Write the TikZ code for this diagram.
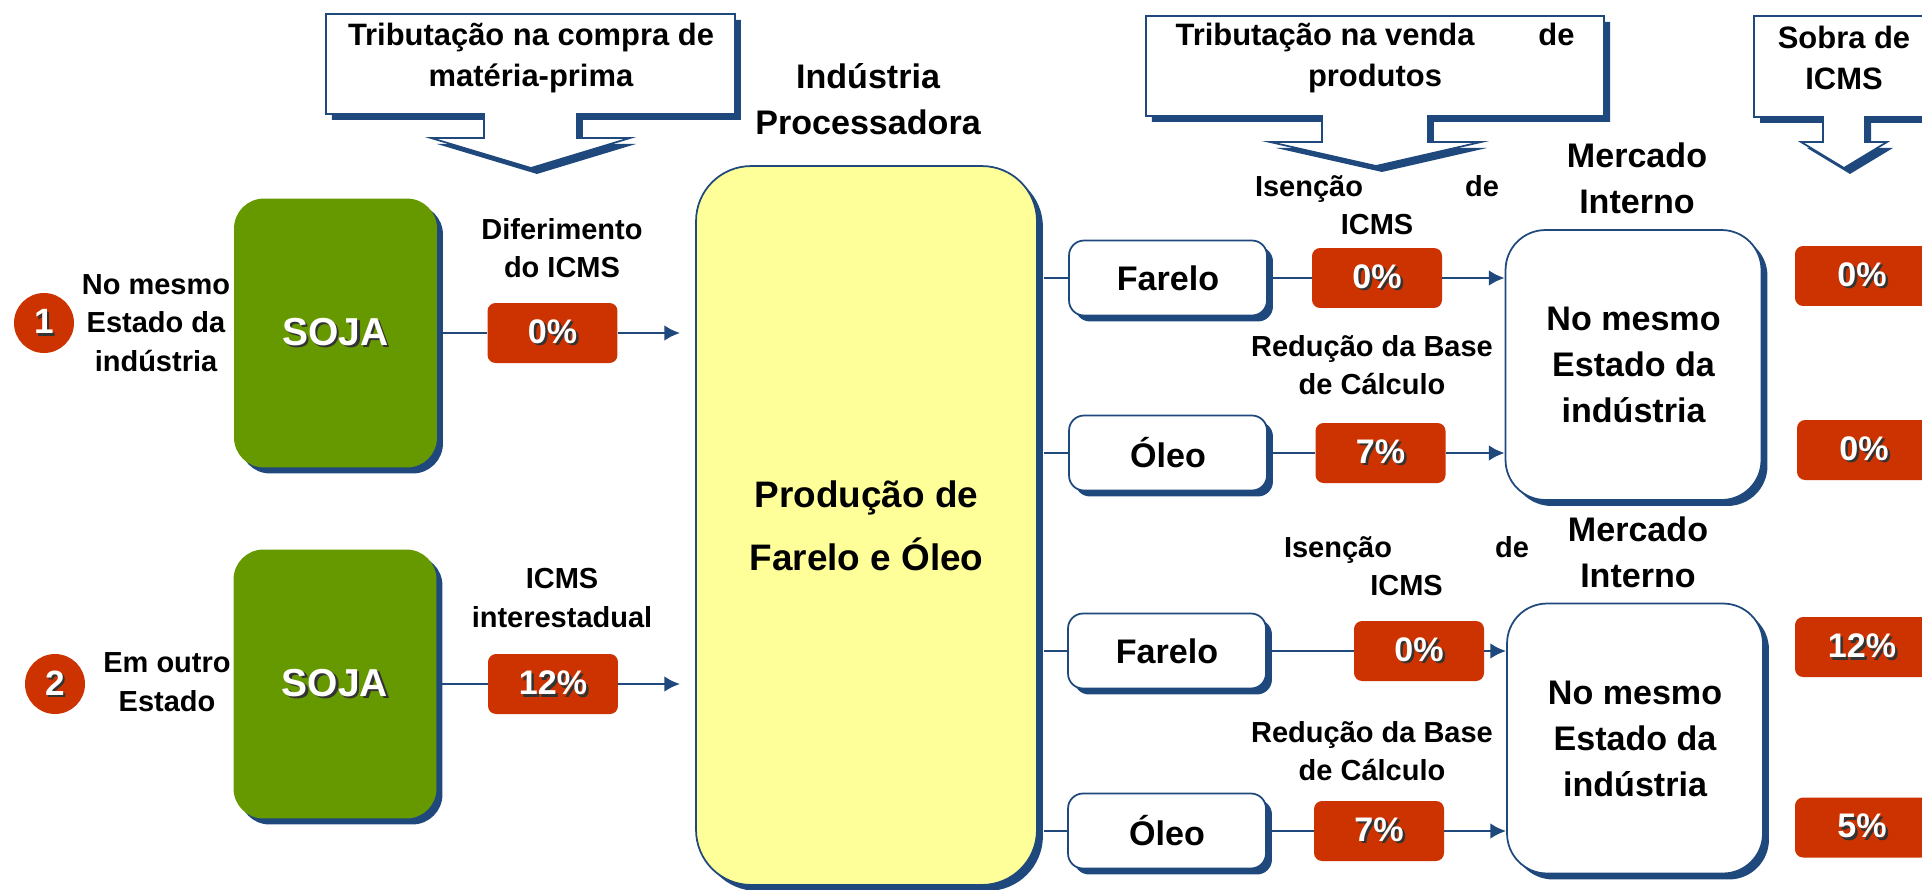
\documentclass[tikz,border=0pt]{standalone}
\usepackage{fontspec}
\setmainfont{Liberation Sans}
\usetikzlibrary{shadows, arrows.meta}

\definecolor{navy}{RGB}{31,73,125}
\definecolor{soyred}{RGB}{204,51,0}
\definecolor{soygreen}{RGB}{102,153,0}
\definecolor{paleyellow}{RGB}{255,255,153}

\newcommand{\shtext}[1]{\makebox[0pt][l]{\hspace{1.4pt}\raisebox{-1.4pt}{\textcolor{black!80}{#1}}}#1}

\begin{document}
\begin{tikzpicture}[x=0.02cm, y=-0.02cm, >={Latex[length=9pt,width=9pt]},
  navyshadow/.style={drop shadow={shadow xshift=3.4pt, shadow yshift=-3.4pt, fill=navy, opacity=1}},
  note/.style={align=center, inner sep=0pt, font=\bfseries\fontsize{16.5}{22}\selectfont},
  bignote/.style={align=center, inner sep=0pt, font=\bfseries\fontsize{19.4}{26.2}\selectfont},
  banner/.style={draw=navy, line width=1pt, fill=white, navyshadow},
  bannertext/.style={align=center, inner sep=0pt, font=\bfseries\fontsize{17.6}{23.3}\selectfont},
  soja/.style={rounded corners=0.6cm, fill=soygreen, text=white, minimum width=4.06cm, minimum height=5.38cm, font=\bfseries\fontsize{22.2}{26}\selectfont, navyshadow},
  rate/.style={rounded corners=0.16cm, fill=soyred, text=white, minimum width=2.6cm, minimum height=1.2cm, font=\bfseries\fontsize{19.4}{23}\selectfont},
  num/.style={circle, fill=soyred, text=white, minimum size=1.2cm, inner sep=0pt, font=\bfseries\fontsize{20}{22}\selectfont},
  product/.style={rounded corners=0.3cm, draw=navy, line width=1pt, fill=white, minimum width=3.96cm, minimum height=1.5cm, font=\bfseries\fontsize{19.4}{23}\selectfont, navyshadow},
  market/.style={rounded corners=0.8cm, draw=navy, line width=1pt, fill=white, minimum width=5.12cm, minimum height=5.4cm, align=center, font=\bfseries\fontsize{19.4}{26.2}\selectfont, navyshadow},
  flow/.style={navy, line width=1.6pt}]
  \useasboundingbox (0,0) rectangle (1922,889);
  \clip (0,0) rectangle (1922,889);

  \draw [banner] (326,14) -- (735,14) -- (735,114) -- (577,114) -- (577,138) -- (630,138) -- (531,168)
    -- (431,138) -- (484,138) -- (484,114) -- (326,114) -- cycle;
  \draw [banner] (1146,16) -- (1604,16) -- (1604,116) -- (1428,116) -- (1428,142) -- (1481,142) -- (1376,166)
    -- (1270,142) -- (1322,142) -- (1322,116) -- (1146,116) -- cycle;
  \draw [banner] (1754,16) -- (1934,16) -- (1934,117) -- (1865,117) -- (1865,142) -- (1887,142) -- (1844,168)
    -- (1801,142) -- (1823,142) -- (1823,117) -- (1754,117) -- cycle;
  \node [bannertext] (tcompra) at (531,58) {Tributação na compra de\\matéria-prima};
  \node [bannertext] (tvenda) at (1375,58) {\makebox[7.98cm]{Tributação na venda\hfill de}\\produtos};
  \node [bannertext] (tsobra) at (1844,58) {Sobra de\\ICMS};

  \node [num] (n1) at (44,323) {\shtext{1}};
  \node [num] (n2) at (55,684) {\shtext{2}};
  \node [note] (orig1) at (156,323) {No mesmo\\Estado da\\indústria};
  \node [note] (orig2) at (167,682) {Em outro\\Estado};
  \node [soja] (soja1) at (335.5,333) {\shtext{SOJA}};
  \node [soja] (soja2) at (335,684) {\shtext{SOJA}};
  \node [rate] (r1) at (552.5,333) {\shtext{0\%}};
  \node [rate] (r2) at (553,684) {\shtext{12\%}};
  \node [note] (dif) at (562,248) {Diferimento\\do ICMS};
  \node [note] (inter) at (562,598) {ICMS\\interestadual};

  \node [bignote] (ind) at (868,99) {Indústria\\Processadora};
  \node [draw=navy, line width=1pt, fill=paleyellow, rounded corners=1.1cm, minimum width=6.82cm,
    minimum height=14.38cm, align=center, font=\bfseries\fontsize{21}{35.8}\selectfont, navyshadow]
    (prod) at (866.5,525.5) {Produção de\\Farelo e Óleo};

  \node [product] (f1) at (1168,278) {Farelo};
  \node [product] (o1) at (1168,453) {Óleo};
  \node [product] (f2) at (1167,651) {Farelo};
  \node [product] (o2) at (1167,831) {Óleo};
  \node [rate] (rf1) at (1377,278) {\shtext{0\%}};
  \node [rate] (ro1) at (1380.5,453) {\shtext{7\%}};
  \node [rate] (rf2) at (1419,651) {\shtext{0\%}};
  \node [rate] (ro2) at (1379,831) {\shtext{7\%}};
  \node [note] (isen1) at (1377,205) {\makebox[4.88cm]{Isenção\hfill de}\\ICMS};
  \node [note] (red1) at (1372,365) {Redução da Base\\de Cálculo};
  \node [note] (isen2) at (1406.5,566) {\makebox[4.9cm]{Isenção\hfill de}\\ICMS};
  \node [note] (red2) at (1372,751) {Redução da Base\\de Cálculo};

  \node [market] (m1) at (1633.5,365) {No mesmo\\Estado da\\indústria};
  \node [market] (m2) at (1635,738.5) {No mesmo\\Estado da\\indústria};
  \node [bignote] (merc1) at (1637,178) {Mercado\\Interno};
  \node [bignote] (merc2) at (1638,552) {Mercado\\Interno};

  \node [rate, minimum width=2.68cm] (s1) at (1862,276) {\shtext{0\%}};
  \node [rate, minimum width=2.68cm] (s2) at (1864,450) {\shtext{0\%}};
  \node [rate, minimum width=2.68cm] (s3) at (1862,647) {\shtext{12\%}};
  \node [rate, minimum width=2.68cm] (s4) at (1862,827.5) {\shtext{5\%}};

  \draw [flow] (soja1) -- (r1);
  \draw [flow, ->, shorten >=0.3cm] (r1) -- (r1 -| prod.west);
  \draw [flow] (soja2) -- (r2);
  \draw [flow, ->, shorten >=0.3cm] (r2) -- (r2 -| prod.west);
  \foreach \p/\r/\m in {f1/rf1/m1, o1/ro1/m1, f2/rf2/m2, o2/ro2/m2} {
    \draw [flow] ([xshift=3.4pt]prod.east |- \p) -- (\p);
    \draw [flow] (\p) -- (\r);
    \draw [flow, ->] (\r) -- (\r -| \m.west);
  }
\end{tikzpicture}
\end{document}
